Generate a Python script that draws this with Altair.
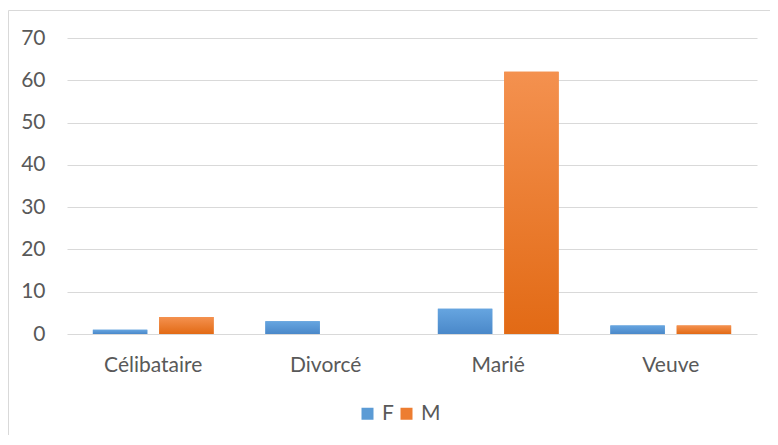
import altair as alt
import pandas as pd

categories = ["Célibataire", "Divorcé", "Marié", "Veuve"]
series = ["F", "M"]
f_values = [1, 3, 6, 2]
m_values = [4, 0, 62, 2]
y_ticks = [0, 10, 20, 30, 40, 50, 60, 70]

rows = []
for c, f, m in zip(categories, f_values, m_values):
    rows.append({"cat": c, "sexe": "F", "val": f})
    rows.append({"cat": c, "sexe": "M", "val": m})
df = pd.DataFrame(rows)

FONT = "Lato"
FS = 21
TXT = "#595959"
GRID = "#D9D9D9"

x = alt.X("cat:N", sort=categories, title=None,
          scale=alt.Scale(paddingInner=0.3, paddingOuter=0.15),
          axis=alt.Axis(labelAngle=0, ticks=False, domain=False, labelPadding=20,
                        labelFontSize=FS, labelColor=TXT, labelFont=FONT, grid=False))
xo = alt.XOffset("sexe:N", sort=series, scale=alt.Scale(domain=series, paddingInner=0.18))
y = alt.Y("val:Q", title=None, scale=alt.Scale(domain=[0, 70]),
          axis=alt.Axis(values=y_ticks, ticks=False, domain=False, labelPadding=22,
                        labelFontSize=FS, labelColor=TXT, labelFont=FONT,
                        gridColor=GRID, gridWidth=1))

base = alt.Chart(df).mark_bar().encode(
    x=x, xOffset=xo, y=y,
    color=alt.Color("sexe:N", scale=alt.Scale(domain=series, range=["#5B9BD5", "#ED7D31"]),
                    legend=alt.Legend(title=None, orient="none", legendX=290, legendY=365,
                                      direction="horizontal", symbolType="square",
                                      symbolSize=144, symbolStrokeWidth=0,
                                      labelFontSize=FS, labelFont=FONT, labelColor=TXT,
                                      labelOffset=4, columnPadding=2))
)

def grad(top, bottom):
    return alt.Gradient(gradient="linear", x1=0, x2=0, y1=0, y2=1,
                        stops=[alt.GradientStop(color=top, offset=0),
                               alt.GradientStop(color=bottom, offset=1)])

f_layer = alt.Chart(df).transform_filter(alt.datum.sexe == "F").mark_bar(
    color=grad("#66A5E0", "#4A88C9")).encode(x=x, xOffset=xo, y=y)
m_layer = alt.Chart(df).transform_filter(alt.datum.sexe == "M").mark_bar(
    color=grad("#F4914F", "#E26A15")).encode(x=x, xOffset=xo, y=y)

border = alt.Chart(pd.DataFrame({"a": [0]})).mark_rect(
    fill="transparent", stroke=GRID, strokeWidth=1).encode(
    x=alt.value(-58.5), x2=alt.value(760), y=alt.value(-27.5), y2=alt.value(460))

chart = alt.layer(border, base, f_layer, m_layer).properties(
    width=690, height=296,
    autosize="none",
    padding={"left": 59, "top": 30, "right": 13, "bottom": 101},
    background="white",
).configure_view(stroke=None)

chart.save("out.html", embed_options={"renderer": "svg", "actions": False})
